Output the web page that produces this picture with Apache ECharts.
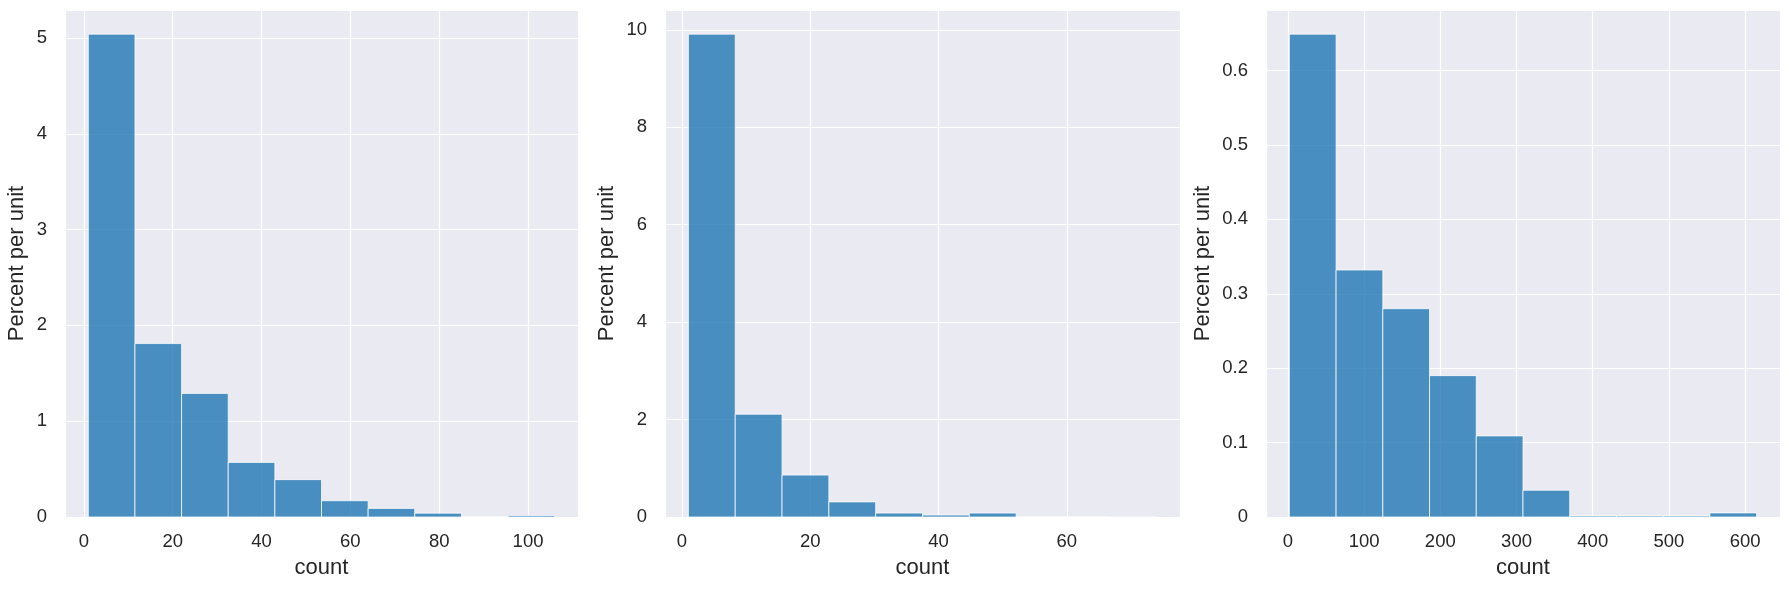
<!DOCTYPE html>
<html>
<head>
<meta charset="utf-8">
<script src="https://cdn.jsdelivr.net/npm/echarts@6/dist/echarts.min.js"></script>
<style>
html,body{margin:0;padding:0;background:#fff;}
#c{width:1789px;height:589px;}
</style>
</head>
<body>
<div id="c"></div>
<script>
// ---- data ----
const edges1 = [1, 11.5, 22, 32.5, 43, 53.5, 64, 74.5, 85, 95.5, 106];
const heights1 = [5.04, 1.81, 1.29, 0.57, 0.39, 0.17, 0.09, 0.04, 0, 0.015];
const edges2 = [1, 8.3, 15.6, 22.9, 30.2, 37.5, 44.8, 52.1, 59.4, 66.7, 74];
const heights2 = [9.91, 2.11, 0.86, 0.31, 0.08, 0.04, 0.08, 0, 0, 0.01];
const edges3 = [2, 63.3, 124.6, 185.9, 247.2, 308.5, 369.8, 431.1, 492.4, 553.7, 615];
const heights3 = [0.649, 0.332, 0.28, 0.19, 0.109, 0.036, 0.0015, 0.0015, 0.0015, 0.0055];
const xTicks1 = [0, 20, 40, 60, 80, 100];
const xTicks2 = [0, 20, 40, 60];
const xTicks3 = [0, 100, 200, 300, 400, 500, 600];
const yTicks1 = [0, 1, 2, 3, 4, 5];
const yTicks2 = [0, 2, 4, 6, 8, 10];
const yTicks3 = [0, 0.1, 0.2, 0.3, 0.4, 0.5, 0.6];
const xName = 'count';
const yName = 'Percent per unit';

// ---- build ----
const FONT = 'Liberation Sans, Arial, sans-serif';
const TXT = '#262626';
const panels = [
  {edges: edges1, heights: heights1, xt: xTicks1, yt: yTicks1, left: 65, width: 513, yGap: 37},
  {edges: edges2, heights: heights2, xt: xTicks2, yt: yTicks2, left: 665, width: 515, yGap: 47},
  {edges: edges3, heights: heights3, xt: xTicks3, yt: yTicks3, left: 1266, width: 514, yGap: 52}
];

function fmt(ticks) {
  return function (v) {
    for (const t of ticks) { if (Math.abs(t - v) < 1e-9 * Math.max(1, Math.abs(t))) return String(t); }
    return '';
  };
}

const grid = [], xAxis = [], yAxis = [], series = [];
panels.forEach((p, i) => {
  const lo = p.edges[0], hi = p.edges[p.edges.length - 1];
  const span = hi - lo;
  const hmax = Math.max.apply(null, p.heights);
  grid.push({left: p.left, width: p.width, top: 10, bottom: 72, show: true,
    backgroundColor: '#EAEAF2', borderWidth: 0, containLabel: false});
  xAxis.push({
    type: 'value', gridIndex: i, min: lo - 0.05 * span, max: hi + 0.05 * span, splitNumber: 5,
    name: xName, nameLocation: 'middle', nameGap: 40,
    nameTextStyle: {fontFamily: FONT, fontSize: 22, color: TXT},
    axisLine: {show: false}, axisTick: {show: false},
    axisLabel: {fontFamily: FONT, fontSize: 18.5, color: TXT, margin: 15, formatter: fmt(p.xt)},
    splitLine: {show: true, lineStyle: {color: '#ffffff', width: 1.2}}
  });
  yAxis.push({
    type: 'value', gridIndex: i, min: 0, max: hmax * 1.05, splitNumber: 5,
    name: yName, nameLocation: 'middle', nameGap: p.yGap,
    nameTextStyle: {fontFamily: FONT, fontSize: 22, color: TXT},
    axisLine: {show: false}, axisTick: {show: false},
    axisLabel: {fontFamily: FONT, fontSize: 18.5, color: TXT, margin: 18, formatter: fmt(p.yt)},
    splitLine: {show: true, lineStyle: {color: '#ffffff', width: 1.2}}
  });
  const data = p.heights.map((h, k) => [p.edges[k], p.edges[k + 1], h]);
  series.push({
    type: 'custom', xAxisIndex: i, yAxisIndex: i, data: data,
    encode: {x: [0, 1], y: 2},
    renderItem: function (params, api) {
      const a = api.coord([api.value(0), api.value(2)]);
      const b = api.coord([api.value(1), 0]);
      return {
        type: 'rect',
        shape: {x: a[0], y: a[1], width: b[0] - a[0], height: b[1] - a[1]},
        style: {fill: 'rgba(31,119,180,0.8)', stroke: 'rgba(255,255,255,0.75)', lineWidth: 1}
      };
    }
  });
});

const chart = echarts.init(document.getElementById('c'), null, {renderer: 'canvas'});
chart.setOption({animation: false, backgroundColor: '#ffffff', grid, xAxis, yAxis, series});
</script>
</body>
</html>
